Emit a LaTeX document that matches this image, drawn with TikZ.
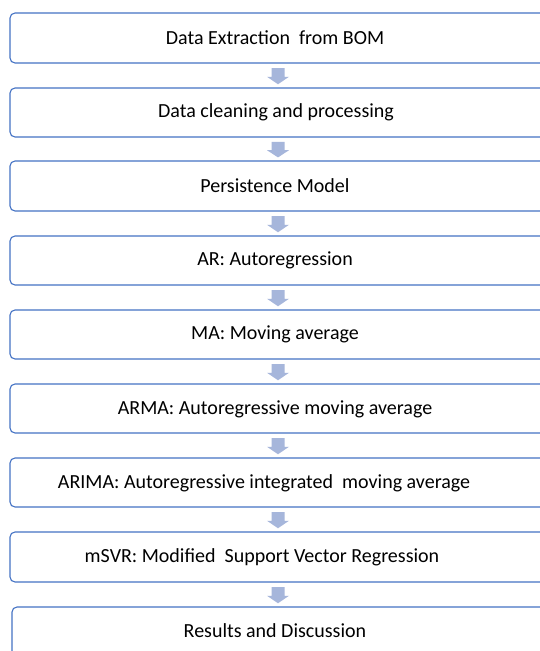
\documentclass[tikz,border=0pt]{standalone}
\usepackage{fontspec}
\setmainfont{Carlito}
\definecolor{boxblue}{RGB}{68,114,196}
\definecolor{arrowfill}{RGB}{166,182,219}
\begin{document}
\begin{tikzpicture}[x=1pt,y=-1pt,
  stepbox/.style={draw=boxblue,line width=1.1pt,rounded corners=5pt,fill=white},
  label/.style={font=\fontsize{20}{24}\selectfont,text=black,inner sep=0pt},
  flowarrow/.style={fill=arrowfill,draw=none}]
\useasboundingbox (0,0) rectangle (540,651);
\clip (0,0) rectangle (540,651);
\fill[white] (0,0) rectangle (540,651);
% boxes
\foreach \i/\top/\bot/\lx in {
  1/13/63/10,
  2/88/137/10,
  3/161/211/10,
  4/236/285/10,
  5/310/359/10,
  6/384/433/10,
  7/458/507/10,
  8/532/582/10,
  9/607/670/12}{
  \draw[stepbox] (\lx,\top) rectangle (550,\bot);
  \coordinate (b\i top) at (278,\top);
  \coordinate (b\i bot) at (278,\bot);
}
\node[label] (t1) at (275,38) {Data Extraction\ \ from BOM};
\node[label] (t2) at (276,112) {Data cleaning and processing};
\node[label] (t3) at (275,186) {Persistence Model};
\node[label] (t4) at (275,260) {AR: Autoregression};
\node[label] (t5) at (275,334) {MA: Moving average};
\node[label] (t6) at (275,409) {ARMA: Autoregressive moving average};
\node[label] (t7) at (264,483) {ARIMA: Autoregressive integrated\ \ moving average};
\node[label] (t8) at (262,557) {mSVR: Modified\ \ Support Vector Regression};
\node[label] (t9) at (275,631) {Results and Discussion};
% arrows
\foreach \i/\j in {1/2,2/3,3/4,4/5,5/6,6/7,7/8,8/9}{
  \path (b\i bot) -- (b\j top) coordinate[pos=0.2] (s\i) coordinate[pos=0.55] (h\i) coordinate[pos=0.85] (e\i);
  \fill[flowarrow] ([xshift=-6.5pt]s\i) -- ([xshift=6.5pt]s\i) -- ([xshift=6.5pt]h\i) -- ([xshift=11pt]h\i)
     -- (e\i) -- ([xshift=-11pt]h\i) -- ([xshift=-6.5pt]h\i) -- cycle;
}
\end{tikzpicture}
\end{document}
